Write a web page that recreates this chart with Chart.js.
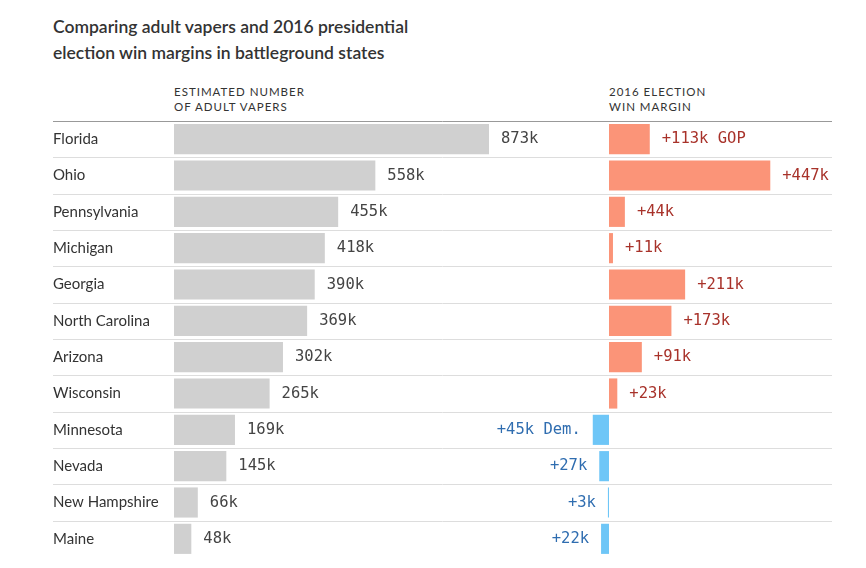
<!DOCTYPE html>
<html><head><meta charset="utf-8">
<script src="https://cdn.jsdelivr.net/npm/chart.js@4"></script>
<style>
body{margin:0;background:#fff;font-family:Lato,"Open Sans",sans-serif;color:#333;}
#title{position:absolute;left:53px;top:14px;font-size:17.5px;line-height:26px;font-weight:600;color:#333;}
.hd{position:absolute;top:84px;font-size:11.5px;line-height:15px;letter-spacing:1px;color:#333;}
#wrap{position:absolute;left:0;top:121px;width:866px;height:436px;}
</style></head><body>
<div id="title">Comparing adult vapers and 2016 presidential<br>election win margins in battleground states</div>
<div class="hd" style="left:174px">ESTIMATED NUMBER<br>OF ADULT VAPERS</div>
<div class="hd" style="left:609px">2016 ELECTION<br>WIN MARGIN</div>
<div id="wrap"><canvas id="c"></canvas></div>
<script>
const states = ['Florida','Ohio','Pennsylvania','Michigan','Georgia','North Carolina','Arizona','Wisconsin','Minnesota','Nevada','New Hampshire','Maine'];
const vapers = [873, 558, 455, 418, 390, 369, 302, 265, 169, 145, 66, 48];
// positive = GOP margin, negative = Dem margin (thousands)
const margins = [113, 447, 44, 11, 211, 173, 91, 23, -45, -27, -3, -22];

const PX = 315 / 873;
const W = 866;
const leftZero = 174, rightZero = 609;

const labels = {
  id: 'labels',
  afterDatasetsDraw(ch) {
    const c = ch.ctx, ys = ch.scales.y, xa = ch.scales.x, xb = ch.scales.x2;
    const rh = ch.height / states.length;
    c.save();
    c.textBaseline = 'middle';
    for (let i = 0; i <= states.length; i++) {
      const y = Math.round(i * rh) + 0.5;
      if (i === states.length) break;
      c.strokeStyle = i === 0 ? '#999' : '#ddd';
      c.beginPath(); c.moveTo(53, i === 0 ? 0.5 : y); c.lineTo(832, i === 0 ? 0.5 : y); c.stroke();
    }
    states.forEach((s, i) => {
      const y = ys.getPixelForValue(i);
      c.font = '15px Lato, "Open Sans", sans-serif'; c.fillStyle = '#333'; c.textAlign = 'left';
      c.fillText(s, 53, y);
      c.font = '15.5px "DejaVu Sans Mono", monospace'; c.fillStyle = '#444';
      c.fillText(vapers[i] + 'k', xa.getPixelForValue(vapers[i]) + 12, y);
      const m = margins[i];
      if (m > 0) {
        c.fillStyle = '#a8322a'; c.textAlign = 'left';
        c.fillText('+' + m + 'k' + (i === 0 ? ' GOP' : ''), xb.getPixelForValue(m) + 12, y);
      } else {
        c.fillStyle = '#2f6db0'; c.textAlign = 'right';
        c.fillText('+' + (-m) + 'k' + (i === 8 ? ' Dem.' : ''), xb.getPixelForValue(m) - 12, y);
      }
    });
    c.restore();
  }
};

new Chart(document.getElementById('c'), {
  type: 'bar',
  data: {
    labels: states,
    datasets: [
      { data: vapers, xAxisID: 'x', backgroundColor: '#d0d0d0', grouped: false, barPercentage: 0.83, categoryPercentage: 1 },
      { data: margins, xAxisID: 'x2', backgroundColor: margins.map(m => m > 0 ? '#fb9478' : '#6ec6f7'), grouped: false, barPercentage: 0.83, categoryPercentage: 1 }
    ]
  },
  options: {
    indexAxis: 'y', responsive: true, maintainAspectRatio: false, animation: false,
    layout: { padding: 0 },
    plugins: { legend: { display: false }, tooltip: { enabled: false } },
    scales: {
      y: { display: false, offset: true },
      x: { display: false, min: -leftZero / PX, max: (W - leftZero) / PX },
      x2: { display: false, min: -rightZero / PX, max: (W - rightZero) / PX }
    }
  },
  plugins: [labels]
});
</script>
</body></html>
